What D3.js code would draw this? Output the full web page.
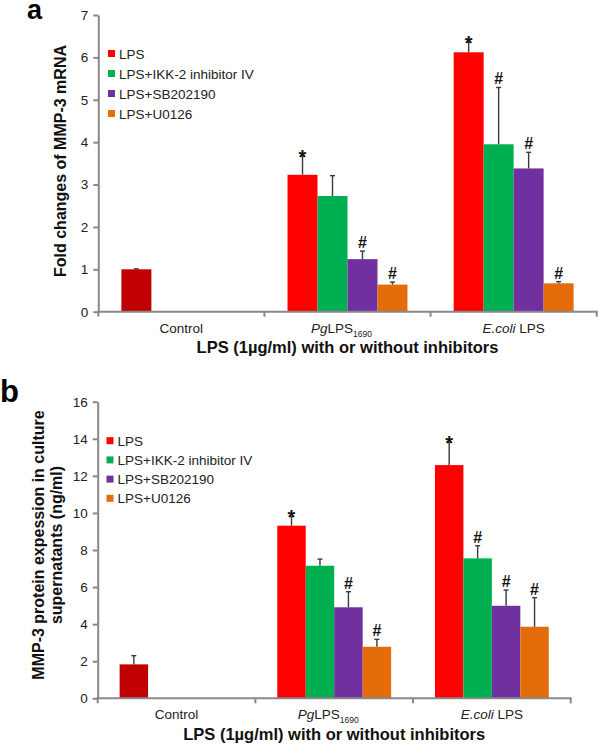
<!DOCTYPE html>
<html>
<head>
<meta charset="utf-8">
<script src="https://cdn.jsdelivr.net/npm/d3@7"></script>
<style>
  body { margin: 0; background: #fff; }
  svg { display: block; font-family: "Liberation Sans", Arial, sans-serif; }
</style>
</head>
<body>
<svg id="chart" width="600" height="745"></svg>
<script>
// groups on the x axis
const groups = ['Control', 'PgLPS1690', 'E.coli LPS'];
const seriesNames = ['LPS', 'LPS+IKK-2 inhibitor IV', 'LPS+SB202190', 'LPS+U0126'];

// panel a: fold change of MMP-3 mRNA
const mrnaMean = [[1.00], [3.23, 2.73, 1.24, 0.64], [6.12, 3.95, 3.38, 0.67]];
const mrnaErr  = [[0.01], [0.45, 0.48, 0.19, 0.06], [0.25, 1.34, 0.38, 0.04]];
const mrnaSig  = [[''], ['*', '', '#', '#'], ['*', '#', '#', '#']];
const mrnaTicks = [0, 1, 2, 3, 4, 5, 6, 7];

// panel b: MMP-3 protein in supernatants (ng/ml)
const protMean = [[1.83], [9.31, 7.15, 4.91, 2.78], [12.58, 7.55, 4.99, 3.86]];
const protErr  = [[0.47], [0.50, 0.36, 0.84, 0.40], [1.23, 0.68, 0.85, 1.57]];
const protSig  = [[''], ['*', '', '#', '#'], ['*', '#', '#', '#']];
const protTicks = [0, 2, 4, 6, 8, 10, 12, 14, 16];

const colors = ['#ff0000', '#00b050', '#7030a0', '#e46c0a'];
const controlColor = '#c00000';
const axisColor = '#898989';

const svg = d3.select('#chart');

function drawPanel(opt) {
  const g = svg.append('g');

  const y = d3.scaleLinear().domain([0, d3.max(opt.ticks)]).range([opt.bottom, opt.top]);
  const x0 = d3.scaleBand().domain(groups).range([opt.left, opt.right]).padding(0);
  const bw = x0.bandwidth();
  const x1 = d3.scaleBand().domain(d3.range(seriesNames.length))
    .range([bw * 0.139, bw * 0.861]).padding(0);

  // bars
  groups.forEach((grp, gi) => {
    opt.mean[gi].forEach((v, si) => {
      const bx = x0(grp) + x1(si);
      const cx = bx + x1.bandwidth() / 2;
      g.append('rect')
        .attr('x', bx)
        .attr('y', y(v))
        .attr('width', x1.bandwidth())
        .attr('height', y(0) - y(v))
        .attr('fill', gi === 0 ? controlColor : colors[si]);

      // upper error bar only
      const top = y(v + opt.err[gi][si]);
      g.append('line')
        .attr('x1', cx).attr('x2', cx)
        .attr('y1', y(v)).attr('y2', top)
        .attr('stroke', '#3a3a3a').attr('stroke-width', 1.4);
      g.append('line')
        .attr('x1', cx - 2.5).attr('x2', cx + 2.5)
        .attr('y1', top).attr('y2', top)
        .attr('stroke', '#3a3a3a').attr('stroke-width', 1.4);

      const mark = opt.sig[gi][si];
      if (mark) {
        g.append('text')
          .attr('x', cx)
          .attr('y', mark === '*' ? top + 8 : top - 3)
          .attr('text-anchor', 'middle')
          .attr('font-size', mark === '*' ? 20 : 16)
          .attr('font-weight', 'bold')
          .attr('fill', '#111')
          .text(mark);
      }
    });
  });

  // y axis
  const yAxis = g.append('g')
    .attr('transform', `translate(${opt.left},0)`)
    .call(d3.axisLeft(y).tickValues(opt.ticks).tickFormat(d3.format('d'))
      .tickSize(5).tickSizeOuter(0).tickPadding(5));
  yAxis.select('.domain').attr('stroke', axisColor).attr('stroke-width', 2);
  yAxis.selectAll('.tick line').attr('stroke', axisColor).attr('stroke-width', 2);
  yAxis.selectAll('.tick text')
    .attr('font-size', 13.5).attr('fill', '#222')
    .attr('font-family', '"Liberation Sans", Arial, sans-serif');

  // x axis with ticks at group boundaries
  const edges = groups.map(d => x0(d)).concat([x0.range()[1]]);
  g.append('line')
    .attr('x1', opt.left - 1).attr('x2', opt.right + 1)
    .attr('y1', y(0)).attr('y2', y(0))
    .attr('stroke', axisColor).attr('stroke-width', 2);
  g.selectAll('.xtick').data(edges).enter().append('line')
    .attr('x1', d => d).attr('x2', d => d)
    .attr('y1', y(0)).attr('y2', y(0) + 5)
    .attr('stroke', axisColor).attr('stroke-width', 2);

  // group labels
  groups.forEach((grp, gi) => {
    const t = g.append('text')
      .attr('x', x0(grp) + bw / 2 + (gi === 1 ? -6 : 0))
      .attr('y', y(0) + opt.labelDy)
      .attr('text-anchor', 'middle')
      .attr('font-size', 13.5)
      .attr('fill', '#222');
    if (gi === 0) {
      t.text('Control');
    } else if (gi === 1) {
      t.append('tspan').attr('font-style', 'italic').text('Pg');
      t.append('tspan').text('LPS');
      t.append('tspan').attr('font-size', 8.5).attr('dy', 4).text('1690');
    } else {
      t.append('tspan').attr('font-style', 'italic').text('E.coli');
      t.append('tspan').text(' LPS');
    }
  });

  // x title
  g.append('text')
    .attr('x', (opt.left + opt.right) / 2)
    .attr('y', opt.xTitleY)
    .attr('text-anchor', 'middle')
    .attr('font-size', 16.5)
    .attr('font-weight', 'bold')
    .attr('fill', '#111')
    .text('LPS (1µg/ml) with or without inhibitors');

  // y title
  const yt = g.append('text')
    .attr('transform', `translate(${opt.yTitleX},${opt.yTitleMid}) rotate(-90)`)
    .attr('text-anchor', 'middle')
    .attr('font-size', 16)
    .attr('font-weight', 'bold')
    .attr('fill', '#111');
  opt.yTitle.forEach((line, i) => {
    yt.append('tspan').attr('x', 0).attr('dy', i === 0 ? 0 : 18).text(line);
  });

  // legend
  seriesNames.forEach((s, i) => {
    const ly = opt.legendY + i * opt.legendStep;
    g.append('rect')
      .attr('x', opt.legendX).attr('y', ly - 3.5)
      .attr('width', 7).attr('height', 7)
      .attr('fill', colors[i]);
    g.append('text')
      .attr('x', opt.legendX + 11).attr('y', ly + 5)
      .attr('font-size', 13.5).attr('fill', '#222')
      .text(s);
  });

  // panel letter
  g.append('text')
    .attr('x', opt.letterX).attr('y', opt.letterY)
    .attr('font-size', opt.letterSize).attr('font-weight', 'bold').attr('fill', '#000')
    .text(opt.letter);
}

drawPanel({
  mean: mrnaMean, err: mrnaErr, sig: mrnaSig, ticks: mrnaTicks,
  top: 15, bottom: 311.7, left: 98.3, right: 596.7,
  labelDy: 21.5, xTitleY: 353,
  yTitleX: 66, yTitleMid: 161, yTitle: ['Fold changes of MMP-3 mRNA'],
  legendX: 108, legendY: 53.5, legendStep: 20,
  letter: 'a', letterX: 27, letterY: 18.5, letterSize: 27
});

drawPanel({
  mean: protMean, err: protErr, sig: protSig, ticks: protTicks,
  top: 401.7, bottom: 698.3, left: 97.7, right: 570.7,
  labelDy: 21, xTitleY: 739.5,
  yTitleX: 44, yTitleMid: 545, yTitle: ['MMP-3 protein expession in culture', 'supernatants (ng/ml)'],
  legendX: 106.5, legendY: 440.7, legendStep: 19.2,
  letter: 'b', letterX: 0, letterY: 402, letterSize: 31
});
</script>
</body>
</html>
